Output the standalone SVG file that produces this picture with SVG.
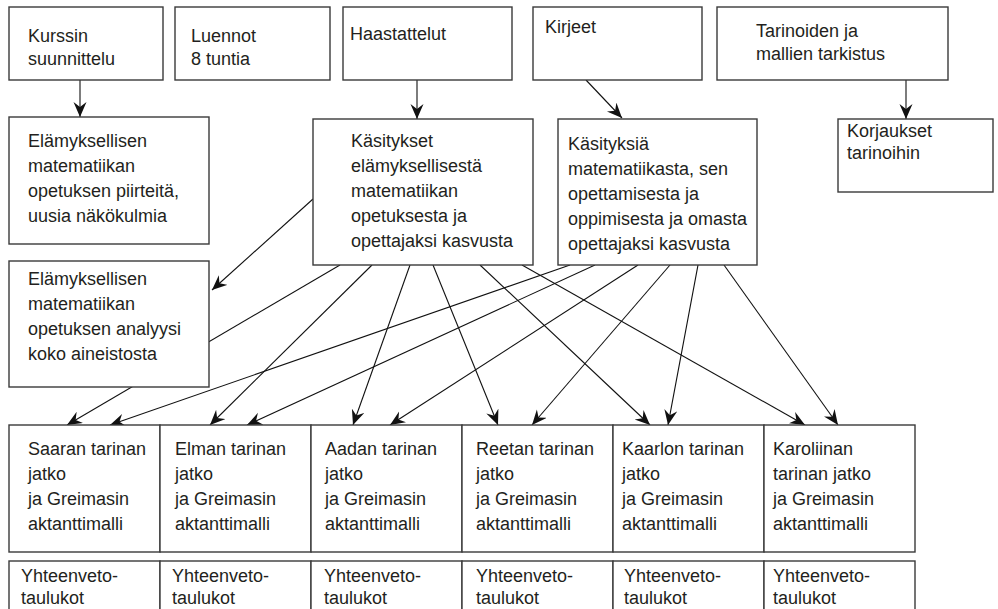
<svg xmlns="http://www.w3.org/2000/svg" width="998" height="609" viewBox="0 0 998 609">
<style>
rect{fill:#fff;stroke:#3a3a3a;stroke-width:1.4}
text{font-family:"Liberation Sans",Arial,sans-serif;font-size:18px;fill:#231f20}
.c line{stroke:#111;stroke-width:1.1;marker-end:url(#ah)}
</style>
<defs>
<marker id="ah" markerUnits="userSpaceOnUse" markerWidth="16" markerHeight="14" refX="15" refY="6.5" orient="auto">
<path d="M0,0 L15,6.5 L0,13 L5,6.5 z" fill="#111"/>
</marker>
</defs>
<g class="c" id="connectors">
<line x1="80" y1="80" x2="80" y2="117"/>
<line x1="417" y1="80" x2="417" y2="119"/>
<line x1="586" y1="80" x2="622" y2="118"/>
<line x1="906" y1="80" x2="906" y2="119"/>
<line x1="313" y1="199" x2="212" y2="290"/>
<line x1="340" y1="265" x2="67" y2="425"/>
<line x1="372" y1="265" x2="210" y2="425"/>
<line x1="410" y1="265" x2="353" y2="425"/>
<line x1="433" y1="265" x2="498" y2="425"/>
<line x1="480" y1="265" x2="650" y2="425"/>
<line x1="522" y1="265" x2="805" y2="425"/>
<line x1="570" y1="265" x2="110" y2="425"/>
<line x1="595" y1="265" x2="247" y2="425"/>
<line x1="638" y1="265" x2="390" y2="425"/>
<line x1="670" y1="265" x2="532" y2="425"/>
<line x1="698" y1="265" x2="668" y2="425"/>
<line x1="724" y1="265" x2="838" y2="425"/>
</g>
<g id="kurssin"><rect x="9" y="7" width="154" height="73"/><text x="28" y="42">Kurssin</text><text x="28" y="65">suunnittelu</text></g>
<g id="luennot"><rect x="175" y="7" width="155" height="73"/><text x="191" y="42">Luennot</text><text x="191" y="65">8 tuntia</text></g>
<g id="haastattelut"><rect x="343" y="7" width="169" height="73"/><text x="350" y="40">Haastattelut</text></g>
<g id="kirjeet"><rect x="533" y="7" width="169" height="73"/><text x="545" y="33">Kirjeet</text></g>
<g id="tarinoiden"><rect x="717" y="7" width="231" height="73"/><text x="756" y="37">Tarinoiden ja</text><text x="756" y="60">mallien tarkistus</text></g>
<g id="piirteita"><rect x="9" y="117" width="200" height="127"/><text x="28" y="147">Elämyksellisen</text><text x="28" y="172">matematiikan</text><text x="28" y="197">opetuksen piirteitä,</text><text x="28" y="222">uusia näkökulmia</text></g>
<g id="analyysi"><rect x="9" y="261" width="200" height="126"/><text x="28" y="285">Elämyksellisen</text><text x="28" y="310">matematiikan</text><text x="28" y="335">opetuksen analyysi</text><text x="28" y="360">koko aineistosta</text></g>
<g id="kasitykset"><rect x="313" y="119" width="220" height="146"/><text x="351" y="147">Käsitykset</text><text x="351" y="172">elämyksellisestä</text><text x="351" y="197">matematiikan</text><text x="351" y="222">opetuksesta ja</text><text x="351" y="247">opettajaksi kasvusta</text></g>
<g id="kasityksia"><rect x="558" y="119" width="199" height="146"/><text x="568" y="150">Käsityksiä</text><text x="568" y="175">matematiikasta, sen</text><text x="568" y="200">opettamisesta ja</text><text x="568" y="225">oppimisesta ja omasta</text><text x="568" y="250">opettajaksi kasvusta</text></g>
<g id="korjaukset"><rect x="838" y="119" width="155" height="73"/><text x="847" y="137">Korjaukset</text><text x="847" y="159">tarinoihin</text></g>
<g id="saara"><rect x="9" y="425" width="151" height="127"/><text x="28" y="455">Saaran tarinan</text><text x="28" y="480">jatko</text><text x="28" y="505">ja Greimasin</text><text x="28" y="530">aktanttimalli</text></g>
<g id="elma"><rect x="160" y="425" width="151" height="127"/><text x="175" y="455">Elman tarinan</text><text x="175" y="480">jatko</text><text x="175" y="505">ja Greimasin</text><text x="175" y="530">aktanttimalli</text></g>
<g id="aada"><rect x="311" y="425" width="151" height="127"/><text x="325" y="455">Aadan tarinan</text><text x="325" y="480">jatko</text><text x="325" y="505">ja Greimasin</text><text x="325" y="530">aktanttimalli</text></g>
<g id="reeta"><rect x="462" y="425" width="151" height="127"/><text x="476" y="455">Reetan tarinan</text><text x="476" y="480">jatko</text><text x="476" y="505">ja Greimasin</text><text x="476" y="530">aktanttimalli</text></g>
<g id="kaarlo"><rect x="613" y="425" width="151" height="127"/><text x="622" y="455">Kaarlon tarinan</text><text x="622" y="480">jatko</text><text x="622" y="505">ja Greimasin</text><text x="622" y="530">aktanttimalli</text></g>
<g id="karoliina"><rect x="764" y="425" width="151" height="127"/><text x="773" y="455">Karoliinan</text><text x="773" y="480">tarinan jatko</text><text x="773" y="505">ja Greimasin</text><text x="773" y="530">aktanttimalli</text></g>
<g id="yht1"><rect x="9" y="561" width="151" height="60"/><text x="21" y="582">Yhteenveto-</text><text x="21" y="604">taulukot</text></g>
<g id="yht2"><rect x="160" y="561" width="151" height="60"/><text x="172" y="582">Yhteenveto-</text><text x="172" y="604">taulukot</text></g>
<g id="yht3"><rect x="311" y="561" width="151" height="60"/><text x="324" y="582">Yhteenveto-</text><text x="324" y="604">taulukot</text></g>
<g id="yht4"><rect x="462" y="561" width="151" height="60"/><text x="476" y="582">Yhteenveto-</text><text x="476" y="604">taulukot</text></g>
<g id="yht5"><rect x="613" y="561" width="151" height="60"/><text x="624" y="582">Yhteenveto-</text><text x="624" y="604">taulukot</text></g>
<g id="yht6"><rect x="764" y="561" width="151" height="60"/><text x="773" y="582">Yhteenveto-</text><text x="773" y="604">taulukot</text></g>
</svg>
